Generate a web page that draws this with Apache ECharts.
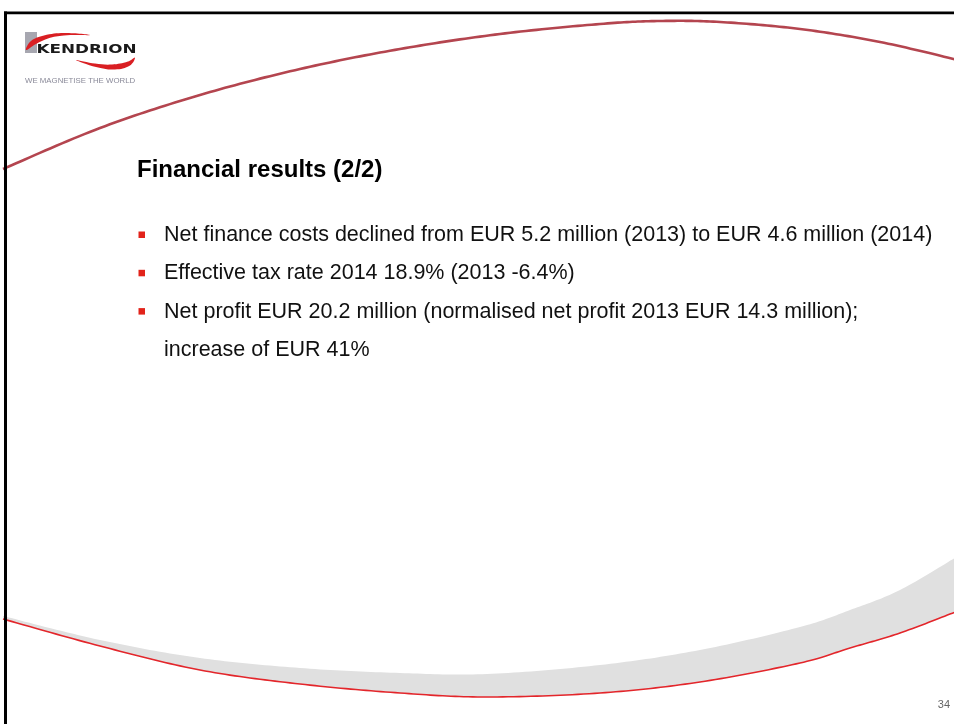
<!DOCTYPE html>
<html><head><meta charset="utf-8">
<script src="https://cdn.jsdelivr.net/npm/echarts@6/dist/echarts.min.js"></script>
<style>html,body{margin:0;padding:0;background:#fff}#c{width:954px;height:724px}</style>
</head><body><div id="c"></div>
<script>
// ---- content ----
const titleText = 'Financial results (2/2)';
const bulletLines = [
  'Net finance costs declined from EUR 5.2 million (2013) to EUR 4.6 million (2014)',
  'Effective tax rate 2014 18.9% (2013 -6.4%)',
  'Net profit EUR 20.2 million (normalised net profit 2013 EUR 14.3 million);',
  'increase of EUR 41%'
];
const bulletHasMarker = [true, true, true, false];
const logoName = 'KENDRION';
const logoTagline = 'WE MAGNETISE THE WORLD';
const pageNumber = '34';

// ---- decorative curve guides (shape geometry) ----
const topArc = [[3,169],[100,128],[200,95],[300,69],[400,49],[500,34],[600,24],[660,21],[720,22],[800,29],[880,42],[958,60]];
const bottomRed = [[3,619],[100,646],[200,670],[300,684],[400,693],[487,697],[600,693],[700,682],[800,663],[850,648],[900,633],[958,611]];
const bottomGrayTop = [[3,616],[100,640],[200,658],[300,668],[400,673],[487,674],[600,665],[700,650],[800,627],[850,610],[900,590],[958,556]];

function spline(p, seg) {
  seg = seg || 20;
  const out = [];
  for (let i = 0; i < p.length - 1; i++) {
    const p0 = p[i - 1] || p[i], p1 = p[i], p2 = p[i + 1], p3 = p[i + 2] || p[i + 1];
    for (let k = 0; k < seg; k++) {
      const t = k / seg, t2 = t * t, t3 = t2 * t;
      const f = (a, b, c, d) => 0.5 * (2 * b + (-a + c) * t + (2 * a - 5 * b + 4 * c - d) * t2 + (-a + 3 * b - 3 * c + d) * t3);
      out.push([f(p0[0], p1[0], p2[0], p3[0]), f(p0[1], p1[1], p2[1], p3[1])]);
    }
  }
  out.push(p[p.length - 1]);
  return out;
}

const redPts = spline(bottomRed);
const grayPts = spline(bottomGrayTop).concat(redPts.slice().reverse());

const FONT = '"Liberation Sans", Arial, sans-serif';
const elements = [];

// gray band + red line
elements.push({type:'polygon', z:1, shape:{points: grayPts}, style:{fill:'#e0e0e0'}});
elements.push({type:'polyline', z:2, shape:{points: redPts}, style:{stroke:'#e3262b', lineWidth:1.6, fill:null}});
// top arc
elements.push({type:'polyline', z:2, shape:{points: spline(topArc)}, style:{stroke:'#b4454f', lineWidth:2.6, fill:null}});

// frame
elements.push({type:'rect', z:10, shape:{x:4, y:11.5, width:960, height:2.8}, style:{fill:'#000'}});
elements.push({type:'rect', z:10, shape:{x:4, y:11.5, width:3, height:720}, style:{fill:'#000'}});

// logo
elements.push({type:'rect', z:3, shape:{x:25, y:32, width:12, height:21}, style:{fill:'#a7a7b0'}});
elements.push({type:'polygon', z:4, shape:{smooth:0.4, points:[[26,50],[31,41],[44,35.5],[64,33],[90,35],[64,35.5],[48,38.5],[36,44]]}, style:{fill:'#d91f23'}});
elements.push({type:'polygon', z:4, shape:{smooth:0.4, points:[[76,60],[96,67],[115,69.5],[130,65.5],[135,57.5],[128,61.5],[112,64.5],[95,63.5]]}, style:{fill:'#d91f23'}});
elements.push({type:'text', z:5, x:36.5, y:49.5, scaleX:1.4, style:{text:logoName, font:'bold 12px "DejaVu Sans", sans-serif', fill:'#1a1a1a', align:'left', verticalAlign:'middle', textAlign:'left', textVerticalAlign:'middle'}});
elements.push({type:'text', z:5, x:25, y:81, scaleX:1.12, style:{text:logoTagline, font:'7px ' + FONT, fill:'#8a8a99', align:'left', verticalAlign:'middle', textAlign:'left', textVerticalAlign:'middle'}});

// title
elements.push({type:'text', z:5, x:137, y:170, style:{text:titleText, font:'bold 24px ' + FONT, fill:'#000', align:'left', verticalAlign:'middle', textAlign:'left', textVerticalAlign:'middle'}});

// bullets
const lineY0 = 235, lineGap = 38.3;
bulletLines.forEach((t, i) => {
  const cy = lineY0 + i * lineGap;
  if (bulletHasMarker[i]) {
    elements.push({type:'rect', z:5, shape:{x:138.5, y:cy - 3.5, width:6.5, height:6.5}, style:{fill:'#e2231a'}});
  }
  elements.push({type:'text', z:5, x:164, y:cy, style:{text:t, font:'21.5px ' + FONT, fill:'#111', align:'left', verticalAlign:'middle', textAlign:'left', textVerticalAlign:'middle'}});
});

// page number
elements.push({type:'text', z:5, x:950, y:705, style:{text:pageNumber, font:'11px ' + FONT, fill:'#666', align:'right', verticalAlign:'middle', textAlign:'right', textVerticalAlign:'middle'}});

const chart = echarts.init(document.getElementById('c'), null, {renderer:'canvas'});
chart.setOption({animation:false, backgroundColor:'#fff', graphic:{elements}});
</script>
</body></html>
